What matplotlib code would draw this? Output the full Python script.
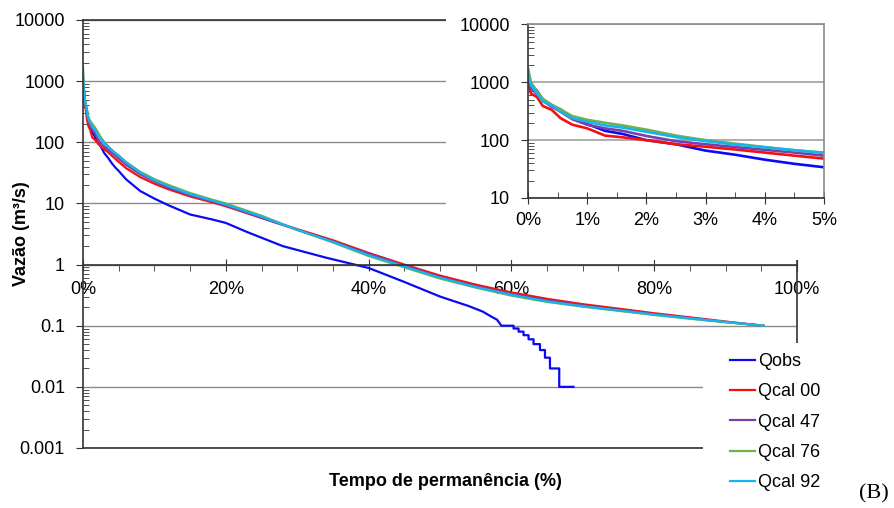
import numpy as np
import matplotlib.pyplot as plt
from matplotlib.patches import Rectangle
from matplotlib.ticker import (FixedLocator, FuncFormatter, LogLocator,
                               MultipleLocator, NullFormatter)

plt.rcParams['font.family'] = ['Liberation Sans', 'DejaVu Sans']

# permanence (%) and flow (m3/s) for the calibrated series
p_cal = [0, 0.05, 0.15, 0.25, 0.4, 0.55, 0.75, 1.0, 1.3, 1.6, 2.0, 2.5, 3.0,
         3.5, 4.0, 4.5, 5.0, 6, 8, 10, 12, 15, 18, 20, 25, 30, 35, 40, 45, 50,
         55, 60, 65, 70, 75, 80, 85, 90, 95.3]
q_cal00 = [1020, 640, 560, 390, 335, 240, 185, 160, 120, 112, 100, 85, 77,
           69, 61, 54, 48, 38, 27, 21, 17, 13, 10.5, 9.0, 5.8, 3.8, 2.5, 1.55,
           1.0, 0.66, 0.47, 0.35, 0.275, 0.225, 0.19, 0.16, 0.137, 0.117, 0.1]
q_cal47 = [1300, 800, 620, 480, 380, 310, 230, 185, 160, 145, 118, 96, 85,
           76, 68, 61, 54, 43, 30, 23, 18, 13.5, 11, 9.3, 5.8, 3.7, 2.4, 1.5,
           0.96, 0.62, 0.44, 0.33, 0.26, 0.215, 0.182, 0.155, 0.133, 0.115, 0.1]
q_cal76 = [1750, 1000, 700, 520, 410, 340, 260, 225, 200, 180, 152, 120, 100,
           87, 76, 67, 61, 48, 33, 25, 20, 14.8, 11.6, 10.0, 6.3, 3.7, 2.3, 1.38,
           0.9, 0.59, 0.42, 0.31, 0.245, 0.205, 0.175, 0.15, 0.13, 0.114, 0.1]
q_cal92 = [1430, 900, 650, 470, 400, 310, 240, 208, 180, 165, 140, 113, 96,
           84, 75, 67, 60, 47, 32, 24, 19, 14.2, 11.2, 9.6, 6.1, 3.7, 2.35, 1.42,
           0.93, 0.61, 0.43, 0.32, 0.25, 0.208, 0.178, 0.152, 0.132, 0.115, 0.1]

# observed flows, then the low-flow tail recorded in 0.01 m3/s steps
p_obs = [0, 0.05, 0.15, 0.25, 0.4, 0.55, 0.75, 1.0, 1.3, 1.6, 2.0, 2.5, 3.0,
         3.5, 4.0, 4.5, 5.0, 6, 8, 10, 12, 15, 18, 20, 23, 28, 34, 40, 45, 50,
         54, 56, 57, 58]
q_obs = [1000, 900, 720, 500, 400, 340, 240, 190, 145, 128, 100, 85, 66,
         56, 46, 39, 34, 25, 16, 12, 9.3, 6.6, 5.5, 4.8, 3.4, 2.0, 1.3, 0.88,
         0.52, 0.30, 0.21, 0.17, 0.145, 0.125]
p_obs_tail = [58.6, 60.3, 61.0, 61.7, 62.4, 63.1, 64.0, 64.7, 65.4, 66.7, 68.7]
q_obs_tail = [0.10, 0.09, 0.08, 0.07, 0.06, 0.05, 0.04, 0.03, 0.02, 0.01, 0.01]

labels = ['Qobs', 'Qcal 00', 'Qcal 47', 'Qcal 76', 'Qcal 92']
colors = ['#0a0af5', '#f50f0f', '#7a3fa8', '#74b04a', '#14b4ee']

main_yticks = [0.001, 0.01, 0.1, 1, 10, 100, 1000, 10000]
inset_yticks = [10, 100, 1000, 10000]

# stepped tail drawn as explicit horizontal/vertical segments
tail_x = np.repeat(p_obs_tail, 2)[1:]
tail_y = np.repeat(q_obs_tail, 2)[:-1]
obs_x = np.concatenate([p_obs, tail_x])
obs_y = np.concatenate([q_obs, tail_y])

series = [(obs_x, obs_y), (p_cal, q_cal00), (p_cal, q_cal47),
          (p_cal, q_cal76), (p_cal, q_cal92)]

dark = '#333333'
grid = '#8a8a8a'
pct = FuncFormatter(lambda v, pos: f'{v:.0f}%')
num = FuncFormatter(lambda v, pos: f'{v:g}')

fig = plt.figure(figsize=(8.94, 5.08), dpi=100)
ax = fig.add_axes([83 / 894, 60 / 508, 714 / 894, 428 / 508])

handles = []
for (x, y), lab, c in zip(series, labels, colors):
    h, = ax.plot(x, y, color=c, lw=1.6, label=lab)
    handles.append(h)

ax.set_yscale('log')
ax.set_ylim(0.001, 10000)
ax.set_xlim(0, 100)
ax.yaxis.set_major_locator(FixedLocator(main_yticks))
ax.yaxis.set_minor_locator(LogLocator(base=10, subs=np.arange(2, 10), numticks=20))
ax.yaxis.set_major_formatter(num)
ax.yaxis.set_minor_formatter(NullFormatter())
ax.xaxis.set_major_locator(MultipleLocator(20))
ax.xaxis.set_minor_locator(MultipleLocator(5))
ax.xaxis.set_major_formatter(pct)
ax.yaxis.grid(True, which='major', color=grid, lw=1.0)
ax.set_axisbelow(True)

# horizontal axis crosses at Q = 1
ax.spines['bottom'].set_position(('data', 1))
ax.axhline(0.001, color=dark, lw=1.2, clip_on=False, zorder=3)
for s in ax.spines.values():
    s.set_color(dark)
    s.set_linewidth(1.2)

ax.tick_params(axis='both', labelsize=13, colors='black')
ax.tick_params(axis='y', which='major', direction='out', length=5, pad=8, color=dark)
ax.tick_params(axis='y', which='minor', direction='in', length=4, color=dark)
ax.tick_params(axis='x', which='major', direction='inout', length=9, pad=7, color=dark)
ax.tick_params(axis='x', which='minor', direction='out', length=4, color=dark)

fig.text(22 / 894, 1 - 234 / 508, 'Vazão (m³/s)', rotation=90, ha='center',
         va='center', fontsize=13, fontweight='bold')
fig.text(445 / 894, 1 - 481 / 508, 'Tempo de permanência (%)', ha='center',
         va='center', fontsize=13, fontweight='bold')

# white backgrounds of the inset and of the legend
fig.patches.append(Rectangle((446 / 894, 1 - 260 / 508), 1, 1, transform=fig.transFigure,
                             facecolor='white', edgecolor='none', zorder=1))
fig.patches.append(Rectangle((703 / 894, 0), 1, 1 - 343 / 508, transform=fig.transFigure,
                             facecolor='white', edgecolor='none', zorder=1))

# inset: first 5% of the curve
axi = fig.add_axes([528 / 894, 1 - 198 / 508, 296 / 894, 173.5 / 508], zorder=2)
for (x, y), c in zip(series, colors):
    axi.plot(x, y, color=c, lw=1.9)
axi.set_yscale('log')
axi.set_ylim(10, 10000)
axi.set_xlim(0, 5)
axi.yaxis.set_major_locator(FixedLocator(inset_yticks))
axi.yaxis.set_minor_locator(LogLocator(base=10, subs=np.arange(2, 10), numticks=20))
axi.yaxis.set_major_formatter(num)
axi.yaxis.set_minor_formatter(NullFormatter())
axi.xaxis.set_major_locator(MultipleLocator(1))
axi.xaxis.set_minor_locator(MultipleLocator(0.5))
axi.xaxis.set_major_formatter(pct)
axi.yaxis.grid(True, which='major', color='#a0a0a0', lw=1.2)
axi.set_axisbelow(True)
for side in ['left', 'bottom']:
    axi.spines[side].set_color(dark)
    axi.spines[side].set_linewidth(1.2)
for side in ['top', 'right']:
    axi.spines[side].set_color('#8a8a8a')
    axi.spines[side].set_linewidth(1.2)
axi.tick_params(axis='both', labelsize=13, colors='black')
axi.tick_params(axis='y', which='major', direction='out', length=5, pad=8, color=dark)
axi.tick_params(axis='y', which='minor', direction='in', length=4, color=dark)
axi.tick_params(axis='x', which='major', direction='inout', length=8, pad=6, color=dark)
axi.tick_params(axis='x', which='minor', direction='in', length=4, color=dark)

fig.legend(handles, labels, loc='upper left', bbox_to_anchor=(730 / 894, 1 - 353 / 508),
           frameon=False, fontsize=13, handlelength=1.4, handletextpad=0.15,
           labelspacing=0.74, borderpad=0, borderaxespad=0)

fig.text(874 / 894, 1 - 494 / 508, '(B)', ha='center', va='center', fontsize=16,
         family='Liberation Serif')

fig.savefig('out.png', dpi=100)
